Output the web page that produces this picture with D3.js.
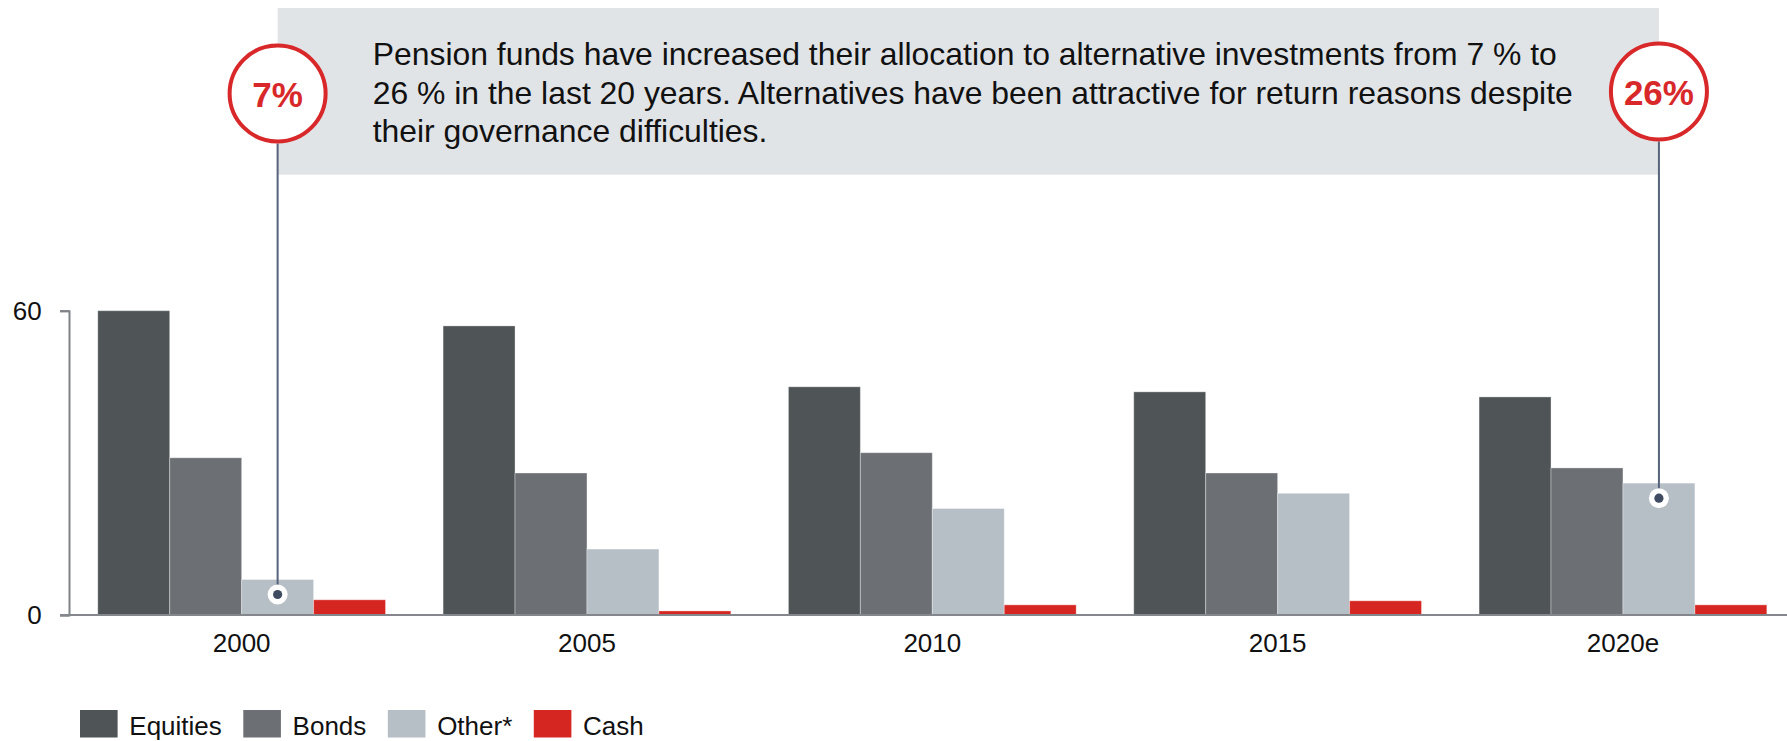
<!DOCTYPE html>
<html><head><meta charset="utf-8">
<script src="https://cdn.jsdelivr.net/npm/d3@7"></script>
<style>html,body{margin:0;padding:0;background:#fff;} svg{display:block;font-family:"Liberation Sans",Arial,sans-serif;}</style>
</head><body>
<svg id="c" width="1787" height="741"></svg>
<script>
// ---- data ----
const years = ["2000","2005","2010","2015","2020e"];
const series = ["Equities","Bonds","Other*","Cash"];
const equities = [60,57,45,44,43];
const bonds = [31,28,32,28,29];
const other = [7,13,21,24,26];
const cash = [3,0.8,2,2.8,2];
const yTicks = [0,60];
const colors = ["#4f5457","#6c6f73","#b6bec6","#d62621"];
const noteLines = [
  "Pension funds have increased their allocation to alternative investments from 7 % to",
  "26 % in the last 20 years. Alternatives have been attractive for return reasons despite",
  "their governance difficulties."
];
const callouts = [{year:"2000", label:"7%"},{year:"2020e", label:"26%"}];

// ---- build ----
const values = [equities, bonds, other, cash];
const rows = years.map((yr,i)=>({year:yr, vals: series.map((s,j)=>({key:s, v: values[j][i], c: colors[j]}))}));

const svg = d3.select("#c");
const W = 1787, H = 741;
const y = d3.scaleLinear().domain([0,60]).range([615, 310.7]);
const x0 = d3.scaleBand().domain(years).range([69, 1795.6]).paddingInner(0.1667).paddingOuter(0.0833);
const x1 = d3.scaleBand().domain(series).range([0, x0.bandwidth()]).padding(0);

const otherCenter = yr => x0(yr) + x1("Other*") + x1.bandwidth()/2;
const otherVal = yr => other[years.indexOf(yr)];

// annotation box
const bx0 = otherCenter(callouts[0].year), bx1 = otherCenter(callouts[1].year);
svg.append("rect").attr("x", bx0).attr("y", 8).attr("width", bx1 - bx0).attr("height", 166.7).attr("fill", "#e1e4e7");
const note = svg.append("text").attr("font-size", 31.9).attr("fill", "#111");
noteLines.forEach((t,i)=>{
  note.append("tspan").attr("x", 372.7).attr("y", 64.8 + i*38.7).text(t);
});

// bars
const g = svg.append("g");
g.selectAll("g.grp").data(rows).join("g").attr("class","grp")
  .attr("transform", d=>`translate(${x0(d.year)},0)`)
  .selectAll("rect").data(d=>d.vals).join("rect")
  .attr("x", d=>x1(d.key)).attr("width", x1.bandwidth())
  .attr("y", d=>y(d.v)).attr("height", d=>y(0)-y(d.v))
  .attr("fill", d=>d.c).attr("stroke","rgba(255,255,255,0.35)").attr("stroke-width",1);

// y axis
const ya = svg.append("g").attr("transform","translate(69,0)")
  .call(d3.axisLeft(y).tickValues(yTicks).tickSize(9).tickPadding(18.3).tickFormat(d3.format("d")));
ya.selectAll("path,line").attr("stroke","#7f8387").attr("stroke-width",2);
ya.selectAll("text").attr("font-size",26).attr("fill","#111").attr("font-family","Liberation Sans, Arial, sans-serif");

// x axis
svg.append("line").attr("x1",60).attr("x2",W).attr("y1",y(0)).attr("y2",y(0)).attr("stroke","#84888c").attr("stroke-width",2);
const xa = svg.append("g").attr("transform",`translate(0,${y(0)})`)
  .call(d3.axisBottom(x0).tickSize(0).tickPadding(18.2));
xa.select(".domain").remove();
xa.selectAll("text").attr("font-size",26).attr("fill","#111").attr("font-family","Liberation Sans, Arial, sans-serif");

// callouts
callouts.forEach((c,i)=>{
  const cx = otherCenter(c.year), cy = i === 0 ? 93.5 : 91.5, r = 50;
  const dy = y(otherVal(c.year)) + 15;
  svg.append("line").attr("x1",cx).attr("x2",cx).attr("y1",cy+r).attr("y2",dy).attr("stroke","#56637a").attr("stroke-width",2);
  svg.append("circle").attr("cx",cx).attr("cy",dy).attr("r",10).attr("fill","#fff");
  svg.append("circle").attr("cx",cx).attr("cy",dy).attr("r",4.6).attr("fill","#3f4b60");
  svg.append("circle").attr("cx",cx).attr("cy",cy).attr("r",r-2).attr("fill","#fff").attr("stroke","#d8282a").attr("stroke-width",4);
  svg.append("text").attr("x",cx).attr("y",cy+13).attr("text-anchor","middle")
    .attr("font-size",35).attr("font-weight","bold").attr("fill","#d8282a").text(c.label);
});

// legend
const lg = svg.append("g");
let lx = 80;
series.forEach((s,i)=>{
  lg.append("rect").attr("x",lx).attr("y",710).attr("width",37.6).attr("height",27.5).attr("fill",colors[i]);
  const t = lg.append("text").attr("x",lx+49.3).attr("y",735).attr("font-size",26).attr("fill","#111").text(s);
  lx += 49.3 + t.node().getComputedTextLength() + 21.5;
});
</script>
</body></html>
